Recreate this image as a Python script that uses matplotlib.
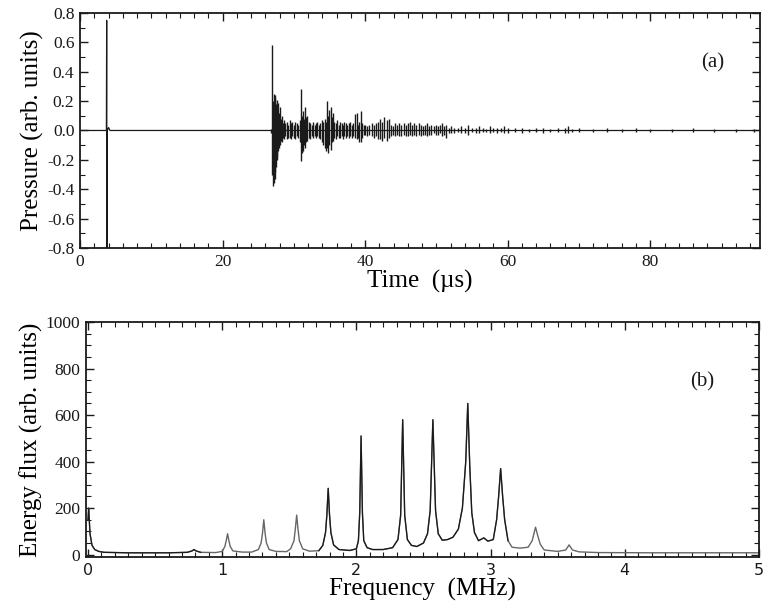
import matplotlib
matplotlib.use("Agg")
import matplotlib.pyplot as plt
from matplotlib.ticker import MultipleLocator
import numpy as np

plt.rcParams['font.family'] = ['Liberation Serif', 'DejaVu Serif']

# ---- (a) pressure trace ----
# emitted pulse near t = 3.75 us
spike_t = [0.0, 3.70, 3.74, 3.77, 3.82, 4.0, 4.2, 26.8]
spike_p = [0.0, 0.0, 0.75, -0.82, 0.0, 0.02, 0.0, 0.0]

# received echo train: time, upper and lower excursion
burst_t = [26.8, 27.0, 27.1, 27.2, 27.3, 27.4, 27.5, 27.6, 27.7, 27.8, 27.9, 28.0,
           28.15, 28.3, 28.45, 28.6, 28.8, 29.0, 29.2, 29.4, 29.6, 29.8, 30.0, 30.2,
           30.4, 30.6, 30.8, 31.0, 31.15, 31.3, 31.45, 31.6, 31.75, 31.9, 32.1, 32.3,
           32.5, 32.7, 32.9, 33.1, 33.3, 33.5, 33.7, 33.9, 34.1, 34.3, 34.5, 34.7,
           34.85, 35.0, 35.15, 35.3, 35.5, 35.7, 35.9, 36.1, 36.3, 36.5, 36.7, 36.9,
           37.1, 37.3, 37.5, 37.7, 37.9, 38.1, 38.3, 38.6, 38.8, 39.0, 39.2, 39.4,
           39.6, 39.8, 40.0, 40.3, 40.6, 40.9, 41.2, 41.5, 41.8, 42.1, 42.4, 42.7,
           43.0, 43.3, 43.6, 43.9, 44.2, 44.5, 44.8, 45.1, 45.4, 45.7, 46.0, 46.3,
           46.6, 46.9, 47.2, 47.5, 47.8, 48.1, 48.4, 48.7, 49.0, 49.3, 49.6, 49.9,
           50.2, 50.5, 50.8, 51.1, 51.4, 51.7, 52.0, 52.5, 53.0, 53.5, 54.0, 54.5,
           55.0, 55.5, 56.0, 56.5, 57.0, 57.5, 58.0, 58.5, 59.0, 59.5, 60.0, 61.0,
           62.0, 63.0, 64.0, 65.0, 66.0, 67.0, 68.0, 68.5, 69.0, 70.0, 72.0, 74.0,
           76.0, 78.0, 80.0, 83.0, 86.0, 89.0, 92.0, 94.5]
burst_hi = [0.01, 0.58, 0.20, 0.25, 0.22, 0.24, 0.18, 0.21, 0.15, 0.19, 0.12, 0.16,
            0.08, 0.10, 0.05, 0.07, 0.05, 0.06, 0.04, 0.07, 0.05, 0.06, 0.04, 0.06,
            0.05, 0.04, 0.07, 0.28, 0.10, 0.13, 0.08, 0.16, 0.09, 0.10, 0.06, 0.05,
            0.04, 0.06, 0.04, 0.05, 0.06, 0.04, 0.05, 0.07, 0.06, 0.08, 0.06, 0.20,
            0.10, 0.14, 0.16, 0.09, 0.12, 0.06, 0.05, 0.07, 0.04, 0.06, 0.05, 0.04,
            0.06, 0.05, 0.04, 0.05, 0.06, 0.04, 0.05, 0.11, 0.12, 0.04, 0.06, 0.13,
            0.05, 0.04, 0.04, 0.03, 0.04, 0.05, 0.04, 0.05, 0.06, 0.08, 0.06, 0.09,
            0.07, 0.08, 0.04, 0.03, 0.05, 0.04, 0.05, 0.04, 0.05, 0.04, 0.05, 0.06,
            0.04, 0.05, 0.04, 0.05, 0.04, 0.03, 0.04, 0.05, 0.03, 0.04, 0.03, 0.04,
            0.03, 0.04, 0.05, 0.03, 0.04, 0.02, 0.03, 0.02, 0.02, 0.03, 0.02, 0.04,
            0.02, 0.02, 0.03, 0.02, 0.01, 0.03, 0.02, 0.02, 0.02, 0.03, 0.02, 0.02,
            0.02, 0.01, 0.02, 0.02, 0.01, 0.02, 0.02, 0.03, 0.01, 0.015, 0.01, 0.015,
            0.01, 0.015, 0.01, 0.01, 0.015, 0.01, 0.01, 0.01]
burst_lo = [-0.02, -0.30, -0.38, -0.36, -0.33, -0.28, -0.25, -0.20, -0.18, -0.14, -0.12, -0.10,
            -0.07, -0.08, -0.05, -0.06, -0.04, -0.06, -0.05, -0.05, -0.06, -0.04, -0.05, -0.06,
            -0.04, -0.05, -0.08, -0.21, -0.15, -0.14, -0.10, -0.12, -0.08, -0.07, -0.05, -0.06,
            -0.04, -0.05, -0.04, -0.05, -0.04, -0.05, -0.06, -0.08, -0.10, -0.12, -0.14, -0.12,
            -0.15, -0.10, -0.13, -0.08, -0.07, -0.05, -0.06, -0.04, -0.05, -0.05, -0.04, -0.06,
            -0.04, -0.05, -0.04, -0.05, -0.04, -0.05, -0.04, -0.05, -0.06, -0.05, -0.08, -0.08,
            -0.05, -0.03, -0.03, -0.04, -0.03, -0.04, -0.05, -0.04, -0.06, -0.06, -0.07, -0.05,
            -0.07, -0.05, -0.04, -0.03, -0.04, -0.03, -0.04, -0.04, -0.03, -0.04, -0.04, -0.03,
            -0.04, -0.03, -0.04, -0.03, -0.04, -0.03, -0.03, -0.04, -0.03, -0.03, -0.02, -0.03,
            -0.03, -0.02, -0.04, -0.03, -0.05, -0.02, -0.02, -0.02, -0.01, -0.02, -0.02, -0.03,
            -0.01, -0.02, -0.02, -0.01, -0.01, -0.02, -0.01, -0.02, -0.01, -0.02, -0.02, -0.01,
            -0.02, -0.01, -0.01, -0.02, -0.01, -0.01, -0.02, -0.02, -0.01, -0.01, -0.01, -0.01,
            -0.01, -0.01, -0.01, -0.01, -0.01, -0.01, -0.01, -0.01]

# ---- (b) energy flux spectrum ----
freq = [0.00, 0.005, 0.015, 0.03, 0.05, 0.08, 0.12, 0.30, 0.60, 0.74, 0.775, 0.79,
        0.805, 0.84, 0.95, 1.00, 1.02, 1.03, 1.04, 1.05, 1.06, 1.08, 1.15, 1.22,
        1.27, 1.29, 1.30, 1.31, 1.32, 1.33, 1.35, 1.40, 1.48, 1.51, 1.535, 1.545,
        1.555, 1.565, 1.575, 1.60, 1.65, 1.72, 1.75, 1.77, 1.78, 1.79, 1.80, 1.81,
        1.83, 1.87, 1.95, 2.00, 2.015, 2.025, 2.035, 2.045, 2.055, 2.08, 2.12, 2.20,
        2.27, 2.31, 2.33, 2.345, 2.36, 2.38, 2.41, 2.45, 2.50, 2.53, 2.55, 2.57,
        2.59, 2.61, 2.64, 2.68, 2.72, 2.76, 2.79, 2.815, 2.83, 2.845, 2.86, 2.88,
        2.91, 2.95, 2.98, 3.02, 3.045, 3.06, 3.075, 3.09, 3.105, 3.13, 3.16, 3.22,
        3.28, 3.31, 3.325, 3.335, 3.35, 3.37, 3.40, 3.50, 3.56, 3.585, 3.61, 3.66,
        3.80, 4.20, 4.60, 5.00]
flux = [150, 200, 90, 40, 22, 14, 10, 8, 8, 10, 16, 22,
        16, 10, 9, 14, 35, 60, 90, 60, 35, 16, 11, 11,
        22, 50, 90, 150, 90, 50, 22, 14, 13, 25, 60, 110,
        170, 110, 60, 25, 15, 17, 40, 95, 170, 285, 170, 95,
        42, 22, 18, 25, 60, 180, 510, 180, 60, 30, 22, 22,
        30, 65, 170, 580, 170, 65, 40, 35, 50, 90, 190, 580,
        190, 90, 62, 65, 75, 110, 200, 400, 650, 380, 180, 95,
        60, 72, 58, 65, 150, 250, 370, 250, 150, 60, 32, 28,
        32, 60, 95, 118, 85, 45, 20, 14, 20, 42, 20, 12,
        9, 8, 8, 8]

fig = plt.figure(figsize=(7.65, 6.12), dpi=100)
ax1 = fig.add_axes([0.1046, 0.5948, 0.8889, 0.3840])
ax2 = fig.add_axes([0.1124, 0.0899, 0.8797, 0.3840])

ink = '#1a1a1a'

# pulse, flat baseline and one vertical stroke per oscillation of the echoes
ax1.plot(spike_t, spike_p, color=ink, lw=0.9)
ax1.plot([burst_t[0], 95.4], [0, 0], color=ink, lw=0.9)
ax1.vlines(burst_t, burst_lo, burst_hi, color=ink, lw=1.0)
ax1.set_xlim(0, 95.4)
ax1.set_ylim(-0.8, 0.8)
ax1.xaxis.set_major_locator(MultipleLocator(20))
ax1.xaxis.set_minor_locator(MultipleLocator(2))
ax1.yaxis.set_major_locator(MultipleLocator(0.2))
ax1.yaxis.set_minor_locator(MultipleLocator(0.1))
ax1.yaxis.set_major_formatter(plt.FuncFormatter(lambda v, p: f"{v:.1f}"))
ax1.set_xlabel("Time  (µs)", fontsize=18, labelpad=0)
ax1.set_ylabel("Pressure (arb. units)", fontsize=18, labelpad=2)
ax1.text(88.8, 0.46, "(a)", fontsize=15, ha='center', va='center', color=ink)

# the outer, weaker peaks print lighter than the central group
f = np.array(freq)
e = np.array(flux)
ax2.plot(f, e, color='#666666', lw=1.0)
dark = (f <= 0.9) | ((f >= 1.72) & (f <= 3.13))
ax2.plot(np.where(dark, f, np.nan), e, color=ink, lw=0.9)
ax2.set_xlim(-0.015, 5.0)
ax2.set_ylim(-10, 1000)
ax2.xaxis.set_major_locator(MultipleLocator(1))
ax2.xaxis.set_minor_locator(MultipleLocator(0.1))
ax2.yaxis.set_major_locator(MultipleLocator(200))
ax2.yaxis.set_minor_locator(MultipleLocator(50))
ax2.set_xlabel("Frequency  (MHz)", fontsize=18, labelpad=0)
ax2.set_ylabel("Energy flux (arb. units)", fontsize=18, labelpad=2)
ax2.text(4.58, 742, "(b)", fontsize=15, ha='center', va='center', color=ink)
for lab in ax2.get_xticklabels():
    lab.set_family('DejaVu Sans')

for ax in (ax1, ax2):
    for s in ax.spines.values():
        s.set_linewidth(1.3)
        s.set_color(ink)
    ax.tick_params(which='both', direction='in', top=True, right=True,
                   colors=ink, labelsize=12.5, pad=4)
    ax.tick_params(which='major', length=6, width=1.0)
    ax.tick_params(which='minor', length=3.5, width=0.8)

ax2.tick_params(axis='x', labelsize=11.5)

fig.savefig("out.png", dpi=100)
